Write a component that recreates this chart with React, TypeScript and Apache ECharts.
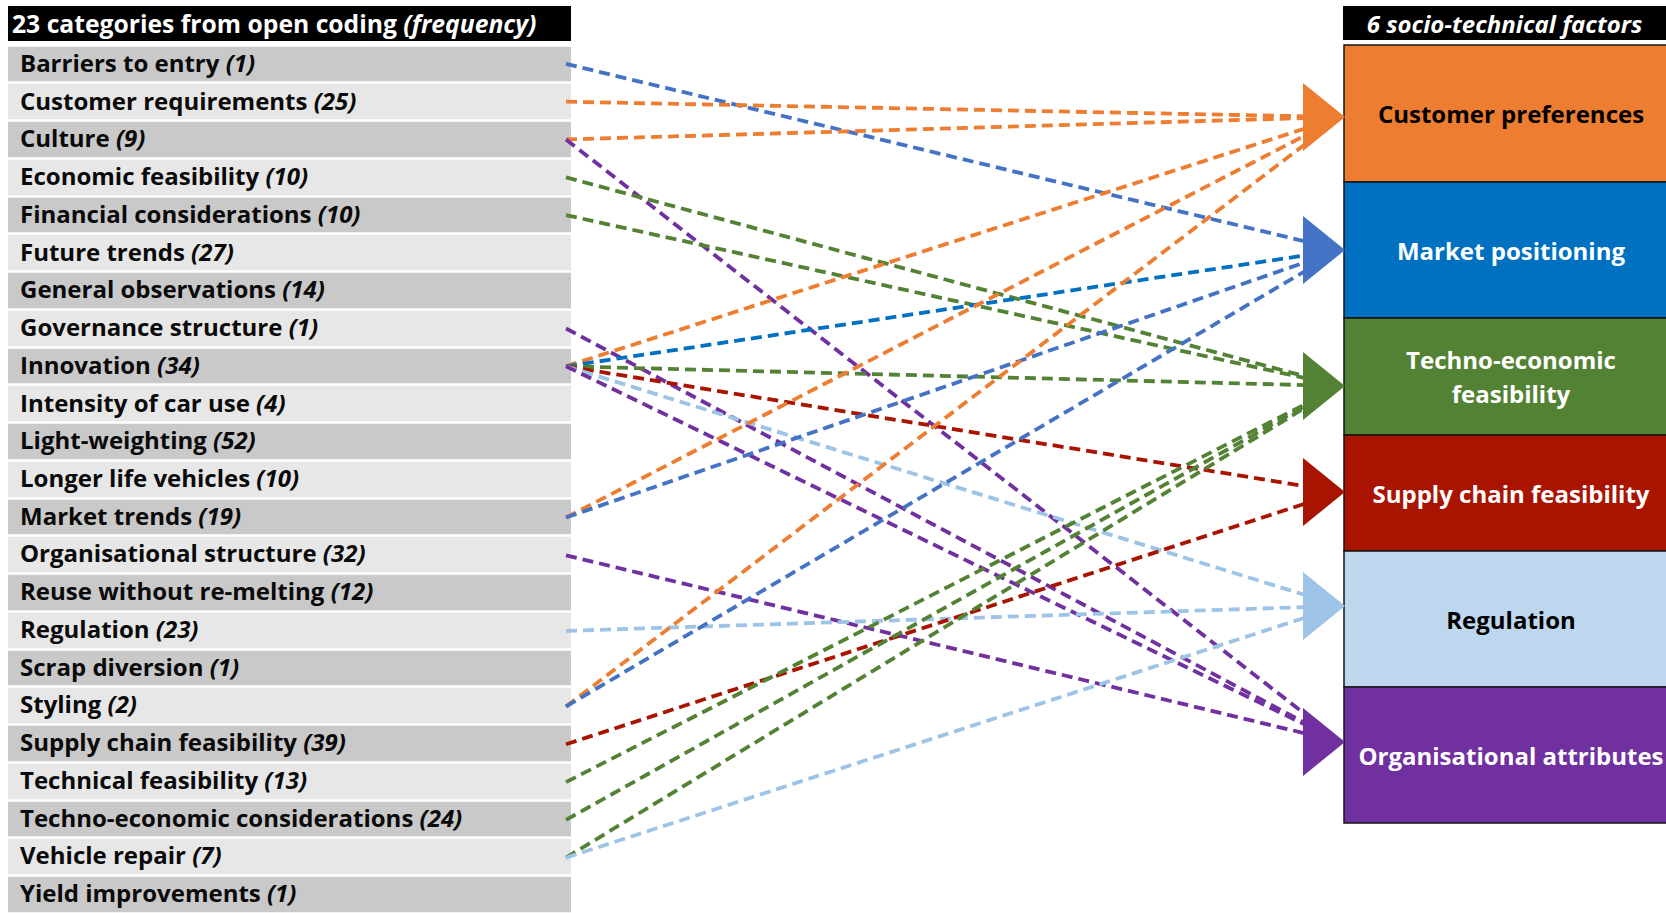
import React, { useEffect, useRef } from 'react';
import * as echarts from 'echarts';

// ---------- data ----------
const CATEGORIES = [
  'Barriers to entry', 'Customer requirements', 'Culture', 'Economic feasibility',
  'Financial considerations', 'Future trends', 'General observations', 'Governance structure',
  'Innovation', 'Intensity of car use', 'Light-weighting', 'Longer life vehicles',
  'Market trends', 'Organisational structure', 'Reuse without re-melting', 'Regulation',
  'Scrap diversion', 'Styling', 'Supply chain feasibility', 'Technical feasibility',
  'Techno-economic considerations', 'Vehicle repair', 'Yield improvements',
];
const FREQUENCIES = [1, 25, 9, 10, 10, 27, 14, 1, 34, 4, 52, 10, 19, 32, 12, 23, 1, 2, 39, 13, 24, 7, 1];
const FACTORS = [
  'Customer preferences', 'Market positioning', 'Techno-economic feasibility',
  'Supply chain feasibility', 'Regulation', 'Organisational attributes',
];
const FACTOR_LABELS = [
  'Customer preferences', 'Market positioning', 'Techno-economic\nfeasibility',
  'Supply chain feasibility', 'Regulation', 'Organisational attributes',
];
const LEFT_TITLE = '23 categories from open coding';
const LEFT_TITLE_NOTE = '(frequency)';
const RIGHT_TITLE = '6 socio-technical factors';

const LINK_FROM = [
  'Barriers to entry', 'Customer requirements', 'Culture', 'Culture',
  'Economic feasibility', 'Financial considerations', 'Governance structure',
  'Innovation', 'Innovation', 'Innovation', 'Innovation', 'Innovation', 'Innovation',
  'Market trends', 'Market trends', 'Organisational structure', 'Regulation',
  'Styling', 'Styling', 'Supply chain feasibility', 'Technical feasibility',
  'Techno-economic considerations', 'Vehicle repair', 'Vehicle repair',
];
const LINK_TO = [
  'Market positioning', 'Customer preferences', 'Customer preferences', 'Organisational attributes',
  'Techno-economic feasibility', 'Techno-economic feasibility', 'Organisational attributes',
  'Customer preferences', 'Market positioning', 'Techno-economic feasibility',
  'Supply chain feasibility', 'Regulation', 'Organisational attributes',
  'Customer preferences', 'Market positioning', 'Organisational attributes', 'Regulation',
  'Customer preferences', 'Market positioning', 'Supply chain feasibility',
  'Techno-economic feasibility', 'Techno-economic feasibility', 'Techno-economic feasibility', 'Regulation',
];

// ---------- layout / style ----------
const W = 1666;
const H = 913;
const FONT = '"Open Sans", "Noto Sans", sans-serif';
const LIST_LEFT = 8;
const LIST_RIGHT = 571;
const LIST_TOP = 45;
const ROW_H = 37.8;
const HEADER_TOP = 6;
const HEADER_H = 35;
const RIGHT_HEADER_LEFT = 1343;
const LINE_X0 = 566;
const LINE_X1 = 1306;
const ARROW_BASE = 1303;
const ARROW_TIP = 1345;
const ARROW_HALF = 34;
const BOX_LEFT = 1344;
const BOX_RIGHT = 1690;
const BOX_LABEL_X = 1511;
const BOX_EDGES = [45, 182, 318, 435, 551, 687, 823];
const ARROW_Y = [117, 250, 386, 492, 606, 742];
const BOX_FILL = ['#ED7D31', '#0070C0', '#548235', '#A81400', '#BDD7EE', '#7030A0'];
const BOX_TEXT = ['#000000', '#ffffff', '#ffffff', '#ffffff', '#000000', '#ffffff'];
const ARROW_FILL = ['#ED7D31', '#4472C4', '#548235', '#A81400', '#9DC3E6', '#7030A0'];
const SPECIAL_LINK_COLOR: Record<string, string> = { 'Innovation>Market positioning': '#0070C0' };

export default function App() {
  const ref = useRef<HTMLDivElement>(null);
  useEffect(() => {
    if (!ref.current) return;
    const chart = echarts.init(ref.current, undefined, { renderer: 'svg' });

    const linkData = LINK_FROM.map((from, k) => {
      const i = CATEGORIES.indexOf(from);
      const j = FACTORS.indexOf(LINK_TO[k]);
      const y0 = LIST_TOP + (i + 0.5) * ROW_H;
      const y1 = ARROW_Y[j] + (y0 - ARROW_Y[j]) * 0.045;
      const color = SPECIAL_LINK_COLOR[from + '>' + LINK_TO[k]] || ARROW_FILL[j];
      return { coords: [[LINE_X0, y0], [LINE_X1, y1]], lineStyle: { color } };
    });

    const option: any = {
      animation: false,
      backgroundColor: '#ffffff',
      grid: [
        { left: LIST_LEFT, top: LIST_TOP, width: LIST_RIGHT - LIST_LEFT, height: ROW_H * CATEGORIES.length },
        { left: 0, top: 0, width: W, height: H },
      ],
      xAxis: [
        { type: 'value', gridIndex: 0, min: 0, max: 1, show: false },
        { type: 'value', gridIndex: 1, min: 0, max: W, show: false },
      ],
      yAxis: [
        {
          type: 'category', gridIndex: 0, data: CATEGORIES, inverse: true,
          axisLine: { show: false }, axisTick: { show: false },
          axisLabel: {
            inside: true, margin: 12, interval: 0,
            formatter: (v: string, idx: number) => `{n|${v} }{f|(${FREQUENCIES[idx]})}`,
            rich: {
              n: { fontFamily: FONT, fontWeight: 'bold', fontSize: 24, color: '#0a0a0a', padding: [0, 0, 3, 0] },
              f: { fontFamily: FONT, fontWeight: 'bold', fontStyle: 'italic', fontSize: 24, color: '#0a0a0a', padding: [0, 0, 3, 0] },
            },
          },
          splitArea: { show: true, interval: 0, areaStyle: { color: ['#C9C9C9', '#E7E7E7'] } },
          splitLine: { show: true, interval: 0, lineStyle: { color: '#ffffff', width: 2.5 } },
        },
        { type: 'value', gridIndex: 1, min: 0, max: H, inverse: true, show: false },
      ],
      graphic: [
        { type: 'rect', shape: { x: LIST_LEFT, y: HEADER_TOP, width: LIST_RIGHT - LIST_LEFT, height: HEADER_H }, style: { fill: '#000' }, z: 10 },
        {
          type: 'text', z: 11,
          style: {
            x: 12, y: HEADER_TOP + HEADER_H / 2, verticalAlign: 'middle', align: 'left',
            text: `{a|${LEFT_TITLE} }{b|${LEFT_TITLE_NOTE}}`,
            rich: {
              a: { fontFamily: FONT, fontWeight: 'bold', fontSize: 24.7, fill: '#fff', color: '#fff' },
              b: { fontFamily: FONT, fontWeight: 'bold', fontStyle: 'italic', fontSize: 24.7, fill: '#fff', color: '#fff' },
            },
          },
        },
        { type: 'rect', shape: { x: RIGHT_HEADER_LEFT, y: HEADER_TOP, width: W - RIGHT_HEADER_LEFT, height: HEADER_H - 1 }, style: { fill: '#000' }, z: 10 },
        {
          type: 'text', z: 11,
          style: {
            x: (RIGHT_HEADER_LEFT + W) / 2, y: HEADER_TOP + (HEADER_H - 1) / 2, verticalAlign: 'middle', align: 'center',
            text: RIGHT_TITLE, fill: '#fff',
            font: `italic bold 24px ${FONT}`,
          },
        },
      ],
      series: [
        {
          type: 'lines', coordinateSystem: 'cartesian2d', xAxisIndex: 1, yAxisIndex: 1,
          silent: true, z: 2,
          lineStyle: { width: 3.8, type: [11, 6], opacity: 1 },
          data: linkData,
        },
        {
          type: 'custom', coordinateSystem: 'cartesian2d', xAxisIndex: 1, yAxisIndex: 1,
          silent: true, z: 3, clip: false,
          data: FACTORS.map((f, j) => [j, 0]),
          renderItem: (params: any, api: any) => {
            const j = params.dataIndex;
            const tl = api.coord([BOX_LEFT, BOX_EDGES[j]]);
            const br = api.coord([BOX_RIGHT, BOX_EDGES[j + 1]]);
            const tip = api.coord([ARROW_TIP, ARROW_Y[j]]);
            const b0 = api.coord([ARROW_BASE, ARROW_Y[j] - ARROW_HALF]);
            const b1 = api.coord([ARROW_BASE, ARROW_Y[j] + ARROW_HALF]);
            const mid = api.coord([BOX_LABEL_X, (BOX_EDGES[j] + BOX_EDGES[j + 1]) / 2]);
            return {
              type: 'group',
              children: [
                { type: 'rect', shape: { x: tl[0], y: tl[1], width: br[0] - tl[0], height: br[1] - tl[1] }, style: { fill: BOX_FILL[j], stroke: '#141414', lineWidth: 1.5 } },
                { type: 'polygon', shape: { points: [b0, tip, b1] }, style: { fill: ARROW_FILL[j] } },
                {
                  type: 'text',
                  style: {
                    text: FACTOR_LABELS[j], x: mid[0], y: mid[1], align: 'center', verticalAlign: 'middle',
                    fill: BOX_TEXT[j], font: `bold 24px ${FONT}`, lineHeight: 34,
                  },
                },
              ],
            };
          },
        },
      ],
    };
    chart.setOption(option);
    return () => chart.dispose();
  }, []);
  return <div ref={ref} style={{ position: 'fixed', left: 0, top: 0, width: W, height: H }} />;
}
